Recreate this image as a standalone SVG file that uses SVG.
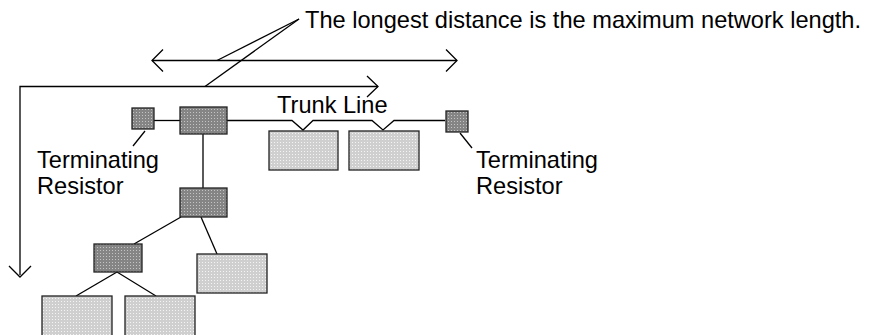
<svg xmlns="http://www.w3.org/2000/svg" width="869" height="335" viewBox="0 0 869 335">
<defs>
<pattern id="pd" width="3" height="3" patternUnits="userSpaceOnUse"><rect width="3" height="3" fill="#858585"/><rect x="1" y="1" width="1" height="1" fill="#c4c4c4"/></pattern>
<pattern id="pl" width="3" height="3" patternUnits="userSpaceOnUse"><rect width="3" height="3" fill="#cfcfcf"/><rect x="1" y="1" width="1" height="1" fill="#f4f4f4"/></pattern>
<style>
.dk{fill:url(#pd);stroke:#222;stroke-width:1.3}
.lt{fill:url(#pl);stroke:#222;stroke-width:1.3}
.ln{fill:none;stroke:#000;stroke-width:1.3}
.ar{fill:none;stroke:#000;stroke-width:1.3}
text{font-family:"Liberation Sans",Arial,sans-serif;font-size:23.6px;fill:#000}
</style>
</defs>
<g id="connectors">
<polyline class="ln" points="154,120.5 180,120.5"/>
<polyline class="ln" points="227,120.5 292,120.5 303,130 313,120.5 372,120.5 383,130 394,120.5 445,120.5"/>
<line class="ln" x1="203" y1="134" x2="203" y2="188"/>
<line class="ln" x1="181" y1="217" x2="134" y2="244"/>
<line class="ln" x1="201" y1="217" x2="217" y2="254"/>
<line class="ln" x1="117" y1="272" x2="76" y2="296"/>
<line class="ln" x1="117" y1="272" x2="156" y2="296"/>
<line class="ln" x1="145" y1="131" x2="133" y2="146" stroke-width="1"/>
<line class="ln" x1="460" y1="133" x2="472" y2="148" stroke-width="1"/>
</g>
<g id="arrows">
<line class="ar" x1="152" y1="60.5" x2="457" y2="60.5"/>
<polyline class="ar" points="163,49.5 152,60.5 163,71.5"/>
<polyline class="ar" points="446,49.5 457,60.5 446,71.5"/>
<polyline class="ar" points="20,275 20,86.5 378,86.5"/>
<polyline class="ar" points="367,76 378,86.5 367,97"/>
<polyline class="ar" points="9,266 20,277 31,266"/>
<line class="ar" x1="299" y1="19" x2="217" y2="60.5" stroke-width="1"/>
<line class="ar" x1="299" y1="19" x2="205" y2="86.5" stroke-width="1"/>
</g>
<g id="term-left"><rect class="dk" x="132" y="108" width="22" height="21"/></g>
<g id="node-top"><rect class="dk" x="180" y="107" width="47" height="27"/></g>
<g id="dev-1"><rect class="lt" x="269" y="131" width="69" height="39"/></g>
<g id="dev-2"><rect class="lt" x="349" y="131" width="70" height="39"/></g>
<g id="term-right"><rect class="dk" x="446" y="111" width="22" height="21"/></g>
<g id="node-mid"><rect class="dk" x="180" y="188" width="47" height="29"/></g>
<g id="node-low"><rect class="dk" x="94" y="244" width="48" height="28"/></g>
<g id="dev-3"><rect class="lt" x="197" y="254" width="70" height="39"/></g>
<g id="dev-4"><rect class="lt" x="42" y="296" width="70" height="45"/></g>
<g id="dev-5"><rect class="lt" x="125" y="296" width="70" height="45"/></g>
<g id="labels">
<text x="305" y="28">The longest distance is the maximum network length.</text>
<text x="277" y="113">Trunk Line</text>
<text x="37" y="168">Terminating</text>
<text x="37" y="194">Resistor</text>
<text x="476" y="168">Terminating</text>
<text x="476" y="194">Resistor</text>
</g>
</svg>
